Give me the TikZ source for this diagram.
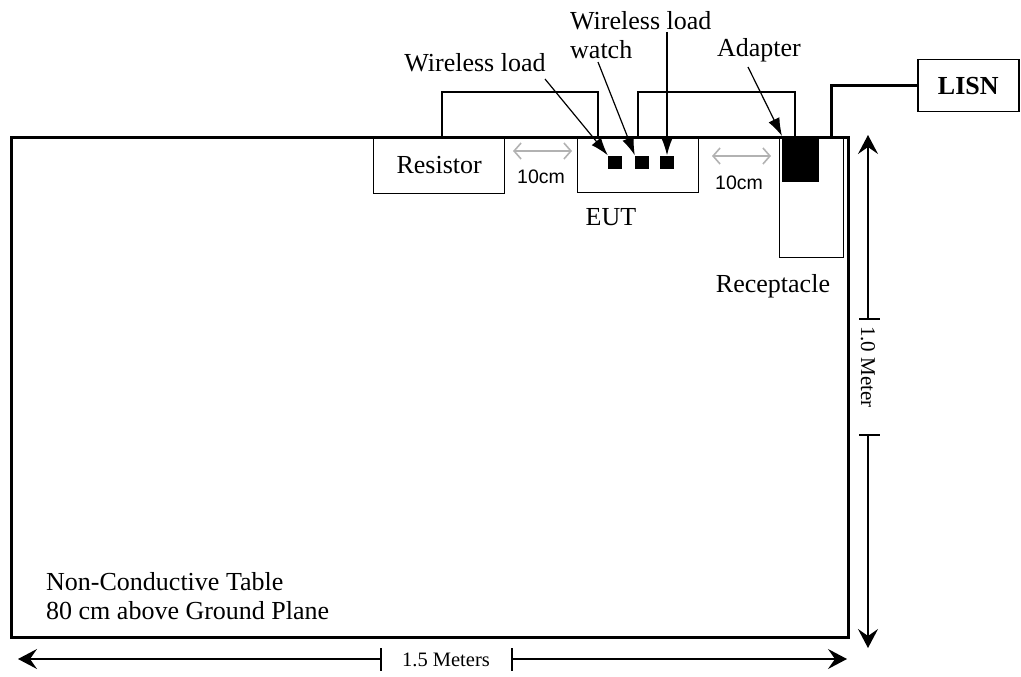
\documentclass[tikz,border=0pt]{standalone}
\usepackage{fontspec}
\setmainfont{Liberation Serif}
\newfontfamily\arialfont{Liberation Sans}
\usepackage{tikz}
\usetikzlibrary{arrows.meta}

\tikzset{
    box/.style={draw, line width=1.3pt, inner sep=0pt, anchor=north west},
    blob/.style={fill=black, inner sep=0pt, minimum width=14pt, minimum height=13pt},
    lbl/.style={inner sep=1pt, font=\fontsize{26}{29}\selectfont},
    wire/.style={line width=1.3pt},
    leader/.style={line width=1.2pt, -{Latex[length=18pt,width=12pt]}},
    gap/.style={line width=1.6pt, gray!60, {Straight Barb[length=7pt,width=16pt]}-{Straight Barb[length=7pt,width=16pt]}},
    dim/.style={line width=1.4pt, -{Stealth[length=19pt,width=20pt,inset=7pt]}},
}

\begin{document}
\begin{tikzpicture}[x=1pt, y=-1pt]
    \useasboundingbox (0,0) rectangle (1021,677);
    % Table and the boxes standing on it
    \node[draw, line width=2.8pt, inner sep=0pt, anchor=north west,
          minimum width=837pt, minimum height=500pt] (table) at (10,136) {};
    \node[box, minimum width=131pt, minimum height=57pt] (resistor) at (373,136) {};
    \node[lbl] at (resistor.center) {Resistor};
    \node[box, minimum width=121pt, minimum height=56pt] (eut) at (577,136) {};
    \node[lbl] (eutlbl) at (611,217) {EUT};
    \node[box, minimum width=64pt, minimum height=121pt] (recept) at (779,136) {};
    \node[lbl] (receptlbl) at (773,286) {Receptacle};
    \node[fill=black, inner sep=0pt, anchor=north west,
          minimum width=37pt, minimum height=46pt] (adapter) at (782,136) {};
    \node[blob] (sq1) at (615,162) {};
    \node[blob] (sq2) at (642,162) {};
    \node[blob] (sq3) at (667,162) {};
    \node[box, line width=1.5pt, minimum width=101pt, minimum height=52pt] (lisnbox) at (917,59) {};
    \node[lbl, font=\fontsize{26}{29}\selectfont\bfseries] (lisn) at (lisnbox.center) {LISN};
    % Cables
    \coordinate (rtop) at (442,136);
    \coordinate (etop) at (598,136);
    \coordinate (etop2) at (638,136);
    \coordinate (atop) at (795,136);
    \coordinate (ptop) at (831,136);
    \draw[wire] (rtop) -- (442,92) -| (etop);
    \draw[wire] (etop2) -- (638,92) -| (atop);
    \draw[line width=3pt] (ptop) |- (lisnbox.west);
    % Labels and pointers
    \node[lbl] (wl1) at (475,63) {Wireless load};
    \node[lbl, align=left, anchor=west] (wl2) at (569,35) {Wireless load\\watch};
    \node[lbl] (adlbl) at (759,50) {Adapter};
    \coordinate (p1) at (545,79);
    \coordinate (p2) at (598,62);
    \coordinate (p3) at (667,32);
    \coordinate (p4) at (748,67);
    \draw[leader] (p1) -- (sq1.north west);
    \draw[leader] (p2) -- (sq2.north west);
    \draw[leader] (p3) -- (sq3.north);
    \draw[leader] (p4) -- (adapter.north west);
    % Spacing marks
    \coordinate (g1) at (513,151);
    \coordinate (g2) at (572,151);
    \coordinate (g3) at (712,156);
    \coordinate (g4) at (771,156);
    \draw[gap] (g1) -- (g2);
    \draw[gap] (g3) -- (g4);
    \node[font=\arialfont\fontsize{19.5}{22}\selectfont] (cm1) at (541,177) {10cm};
    \node[font=\arialfont\fontsize{19.5}{22}\selectfont] (cm2) at (739,183) {10cm};
    % Table text
    \node[lbl, align=left, anchor=west] (tabletxt) at (45,596) {Non-Conductive Table\\80 cm above Ground Plane};
    % Dimensions
    \coordinate (hl) at (18,659);
    \coordinate (hr) at (847,659);
    \coordinate (ht1) at (381,659);
    \coordinate (ht2) at (512,659);
    \draw[dim] (ht1) -- (hl);
    \draw[dim] (ht2) -- (hr);
    \draw[line width=1.3pt] (381,648) -- (381,671) (512,648) -- (512,671);
    \node[font=\fontsize{20.5}{23}\selectfont] (hlbl) at (446,660) {1.5 Meters};
    \coordinate (vt) at (868,135);
    \coordinate (vb) at (868,648);
    \coordinate (vt1) at (868,319);
    \coordinate (vt2) at (868,435);
    \draw[dim] (vt1) -- (vt);
    \draw[dim] (vt2) -- (vb);
    \draw[line width=1.3pt] (859,319) -- (880,319) (859,435) -- (880,435);
    \node[rotate=-90, font=\fontsize{21}{24}\selectfont] (vlbl) at (868,367) {1.0 Meter};
\end{tikzpicture}
\end{document}
